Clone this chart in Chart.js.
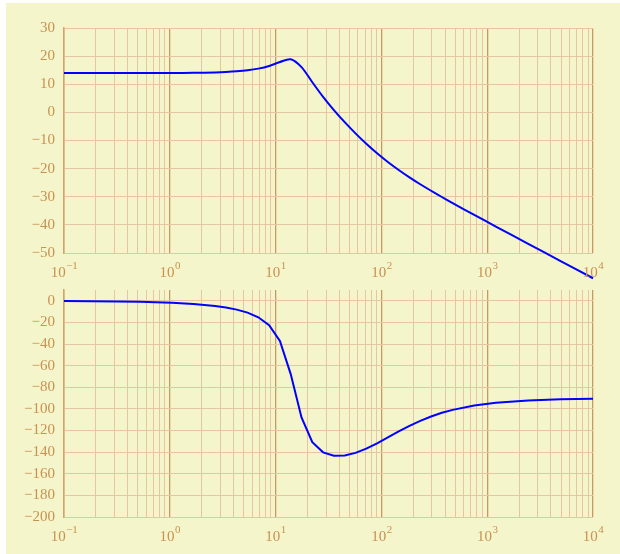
<!DOCTYPE html>
<html>
<head>
<meta charset="utf-8">
<script src="https://cdn.jsdelivr.net/npm/chart.js@4.4.1/dist/chart.umd.min.js"></script>
<style>
  html, body { margin: 0; padding: 0; background: #ffffff; }
  #paper { position: absolute; left: 6px; top: 3px; width: 614px; height: 551px; background: #f5f5cc; }
  canvas { position: absolute; left: 0; }
  #magChart { top: 0; }
  #phaseChart { top: 272px; }
</style>
</head>
<body>
<div id="paper"></div>
<canvas id="magChart" width="620" height="290"></canvas>
<canvas id="phaseChart" width="620" height="282"></canvas>
<script>
// frequency samples (rad/s) and the Bode curves
const freq = [0.1, 0.3237, 0.5179, 1.048, 1.677, 2.683, 3.393, 4.293, 5.429, 6.866,
  8.685, 10.985, 13.895, 17.575, 22.23, 28.12, 35.56, 44.99, 56.90, 71.97,
  91.03, 115.1, 145.7, 184.2, 232.9, 294.7, 372.7, 471.6, 754.6, 1207,
  2442, 4942, 10000];
const magnitude = [13.98, 13.98, 13.99, 14.01, 14.07, 14.21, 14.35, 14.58, 14.95, 15.55,
  16.51, 17.92, 18.89, 16.09, 10.72, 5.51, 0.81, -3.49, -7.46, -11.14,
  -14.53, -17.64, -20.49, -23.11, -25.56, -27.87, -30.09, -32.25, -36.45, -40.58,
  -46.72, -52.85, -58.98];
const phase = [-0.17, -0.56, -0.89, -1.81, -2.93, -4.79, -6.20, -8.14, -10.92, -15.23,
  -22.63, -37.19, -67.77, -107.97, -130.85, -140.19, -143.32, -143.10, -140.71, -136.81,
  -131.89, -126.44, -120.89, -115.68, -111.02, -106.99, -103.63, -100.88, -96.87, -94.31,
  -92.13, -91.05, -90.62];

// tick labels
const decades = [0.1, 1, 10, 100, 1000, 10000];
const decadeExps = ['\u22121', '0', '1', '2', '3', '4'];
const magTicks = [-50, -40, -30, -20, -10, 0, 10, 20, 30];
const phaseTicks = [-200, -180, -160, -140, -120, -100, -80, -60, -40, -20, 0];

const textColor = '#c99150';
const minorGrid = '#e6c6a2';
const majorGrid = '#c89a62';
const serif = '"Liberation Serif", "DejaVu Serif", serif';

// minor log grid: 1..9 in every decade
const logGrid = [];
decades.forEach(d => {
  for (let k = 1; k <= 9; k++) {
    if (d * k <= 10000 + 1e-9) logGrid.push(+(d * k).toPrecision(6));
  }
});

const isDecade = v => decades.some(d => Math.abs(v / d - 1) < 1e-6);

const expLabels = {
  id: 'expLabels',
  afterDraw(chart) {
    const xs = chart.scales.x;
    const ctx = chart.ctx;
    ctx.save();
    ctx.fillStyle = textColor;
    ctx.textBaseline = 'middle';
    ctx.textAlign = 'left';
    decades.forEach((d, i) => {
      const x = xs.getPixelForValue(d);
      const y = xs.top + 20;
      ctx.font = '15px ' + serif;
      const w1 = ctx.measureText('10').width;
      ctx.font = '11px ' + serif;
      const w2 = ctx.measureText(decadeExps[i]).width;
      const left = x - (w1 + w2) / 2;
      ctx.font = '15px ' + serif;
      ctx.fillText('10', left, y);
      ctx.font = '11px ' + serif;
      ctx.fillText(decadeExps[i], left + w1 + 0.5, y - 7);
    });
    ctx.restore();
  }
};

function makeChart(id, values, yTicks, yMin, yMax, padTop, xHeight, clip, tension) {
  const ctx = document.getElementById(id).getContext('2d');
  return new Chart(ctx, {
    type: 'line',
    data: {
      datasets: [{
        data: freq.map((f, i) => ({ x: f, y: values[i] })),
        borderColor: '#0000ff',
        borderWidth: 2,
        pointRadius: 0,
        fill: false,
        tension: tension,
        clip: clip
      }]
    },
    options: {
      responsive: false,
      animation: false,
      layout: { padding: { top: padTop, right: 27, left: 0, bottom: 0 } },
      plugins: { legend: { display: false }, tooltip: { enabled: false } },
      scales: {
        x: {
          type: 'logarithmic',
          min: 0.1,
          max: 10000,
          afterBuildTicks: s => { s.ticks = logGrid.map(v => ({ value: v })); },
          afterFit: s => { s.height = xHeight; },
          ticks: { display: false },
          border: { display: false },
          grid: {
            drawTicks: false,
            color: c => isDecade(c.tick.value) ? majorGrid : minorGrid,
            lineWidth: c => isDecade(c.tick.value) ? 1.3 : 1
          }
        },
        y: {
          min: yMin,
          max: yMax,
          afterBuildTicks: s => { s.ticks = yTicks.map(v => ({ value: v })); },
          afterFit: s => { s.width = 64; },
          ticks: {
            padding: 9,
            color: textColor,
            font: { family: serif, size: 15 },
            callback: v => String(v).replace('-', '\u2212')
          },
          border: { display: true, color: '#d4a46c', width: 1.5 },
          grid: { drawTicks: false, color: minorGrid, lineWidth: 1 }
        }
      }
    },
    plugins: [expLabels]
  });
}

makeChart('magChart', magnitude, magTicks, -50, 30, 28, 37, false, 0.3);
makeChart('phaseChart', phase, phaseTicks, -200, 10, 12, 37, true, 0);
</script>
</body>
</html>
